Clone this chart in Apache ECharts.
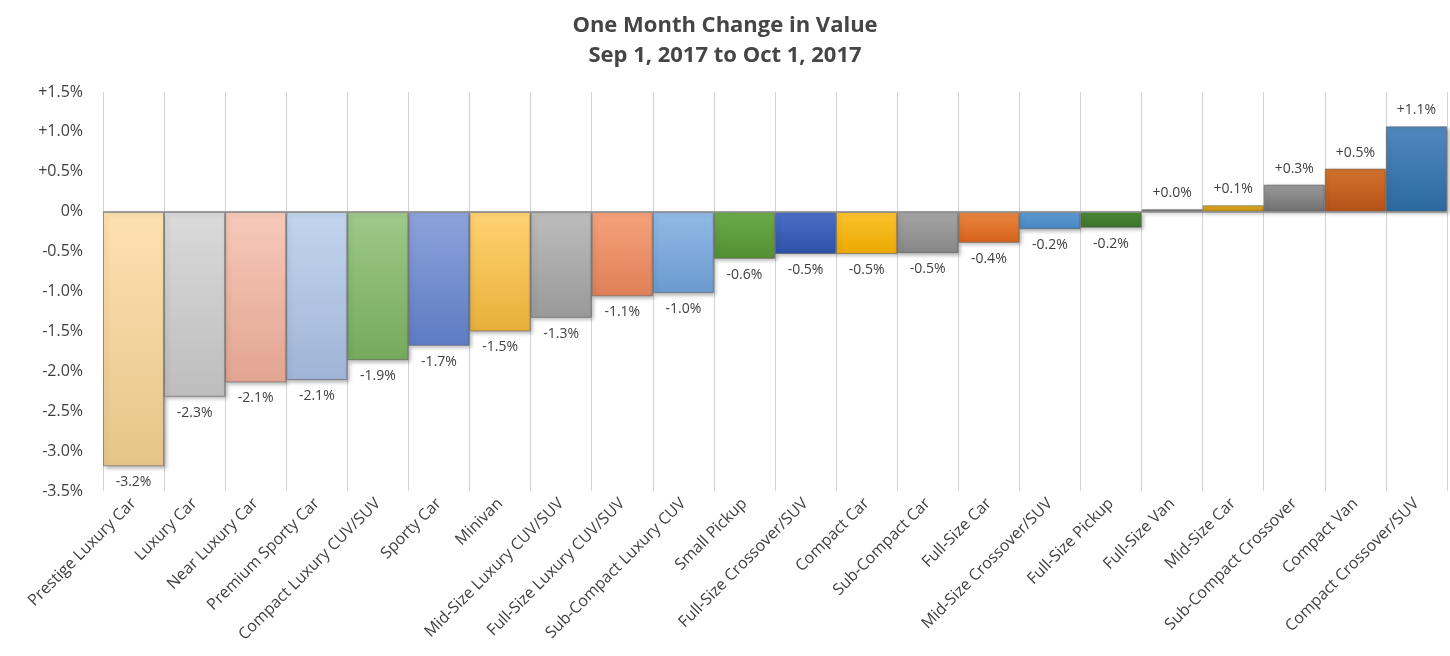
<!DOCTYPE html>
<html>
<head>
<meta charset="utf-8">
<script src="https://cdn.jsdelivr.net/npm/echarts@6/dist/echarts.min.js"></script>
<style>
  html, body { margin: 0; padding: 0; background: #fff; }
  #chart { width: 1450px; height: 656px; }
</style>
</head>
<body>
<div id="chart"></div>
<script>
var categories = ["Prestige Luxury Car", "Luxury Car", "Near Luxury Car", "Premium Sporty Car",
    "Compact Luxury CUV/SUV", "Sporty Car", "Minivan", "Mid-Size Luxury CUV/SUV",
    "Full-Size Luxury CUV/SUV", "Sub-Compact Luxury CUV", "Small Pickup", "Full-Size Crossover/SUV",
    "Compact Car", "Sub-Compact Car", "Full-Size Car", "Mid-Size Crossover/SUV", "Full-Size Pickup",
    "Full-Size Van", "Mid-Size Car", "Sub-Compact Crossover", "Compact Van", "Compact Crossover/SUV"];

var changes = [-3.19, -2.32, -2.14, -2.11, -1.86, -1.68, -1.5, -1.33, -1.06, -1.02, -0.59, -0.53,
    -0.53, -0.52, -0.39, -0.22, -0.2, 0.03, 0.08, 0.34, 0.54, 1.07];

// top / bottom colour of each bar's gradient
var topColors = ["#fde1b0", "#dadada", "#f7c9b9", "#c3d5ee", "#9fc98a", "#8ea3dc", "#ffd372", "#bdbdbd",
    "#f6a27c", "#93bae6", "#6cac48", "#4b70c5", "#fcc431", "#a6a6a6", "#ec8843", "#5e9dd6", "#4d8c37",
    "#8a8a8a", "#e5ac1f", "#9c9c9c", "#d4732e", "#5189bf"];
var bottomColors = ["#e7c589", "#bdbdbd", "#e2a591", "#9fb4d7", "#75aa5c", "#5d7cc3", "#e8b03a", "#999999",
    "#df7f57", "#6b9acf", "#528f33", "#2c51a7", "#eba800", "#868686", "#d5611a", "#4686c0", "#3b7429",
    "#707070", "#cc9614", "#6f6f6f", "#b45218", "#2b68a1"];

var yTicks = { min: -3.5, max: 1.5, step: 0.5 };

function pct(v) {
    if (v === 0) return "0%";
    return (v > 0 ? "+" : "") + v.toFixed(1) + "%";
}

var chart = echarts.init(document.getElementById("chart"));

var data = changes.map(function (v, i) {
    return {
        value: v,
        itemStyle: {
            color: new echarts.graphic.LinearGradient(0, 0, 0, 1, [
                { offset: 0, color: topColors[i] },
                { offset: 1, color: bottomColors[i] }
            ])
        },
        label: { position: v < 0 ? "bottom" : "top" }
    };
});

chart.setOption({
    animation: false,
    title: {
        text: "One Month Change in Value\nSep 1, 2017 to Oct 1, 2017",
        left: "center",
        top: 6,
        textStyle: {
            fontFamily: "'Liberation Sans Narrow', 'Open Sans', sans-serif",
            fontWeight: "bold",
            fontSize: 22,
            lineHeight: 30,
            color: "#454545"
        }
    },
    grid: { left: 103, right: 3, top: 92, bottom: 165 },
    xAxis: {
        type: "category",
        data: categories,
        boundaryGap: true,
        axisLine: { show: false },
        axisTick: { show: false },
        splitLine: { show: true, lineStyle: { color: "#d3d3d3", width: 1 } },
        axisLabel: {
            interval: 0,
            rotate: 45,
            margin: 10,
            fontSize: 16,
            fontFamily: "'Open Sans', sans-serif",
            color: "#404040"
        }
    },
    yAxis: {
        type: "value",
        min: yTicks.min,
        max: yTicks.max,
        interval: yTicks.step,
        axisLine: { show: false },
        axisTick: { show: false },
        splitLine: { show: false },
        axisLabel: {
            margin: 20,
            fontSize: 16,
            fontFamily: "'Open Sans', sans-serif",
            color: "#404040",
            formatter: pct
        }
    },
    series: [{
        type: "bar",
        data: data,
        barCategoryGap: "0%",
        itemStyle: {
            borderColor: "rgba(90,90,90,0.55)",
            borderWidth: 1,
            shadowColor: "rgba(0,0,0,0.3)",
            shadowBlur: 4,
            shadowOffsetX: 2,
            shadowOffsetY: 2
        },
        label: {
            show: true,
            distance: 9,
            fontSize: 14,
            fontFamily: "'Open Sans', sans-serif",
            color: "#404040",
            formatter: function (p) { return pct(p.value); }
        },
        markLine: {
            silent: true,
            symbol: "none",
            label: { show: false },
            lineStyle: { color: "#8c8c8c", width: 1.5, type: "solid" },
            data: [{ yAxis: 0 }]
        }
    }]
});
</script>
</body>
</html>
